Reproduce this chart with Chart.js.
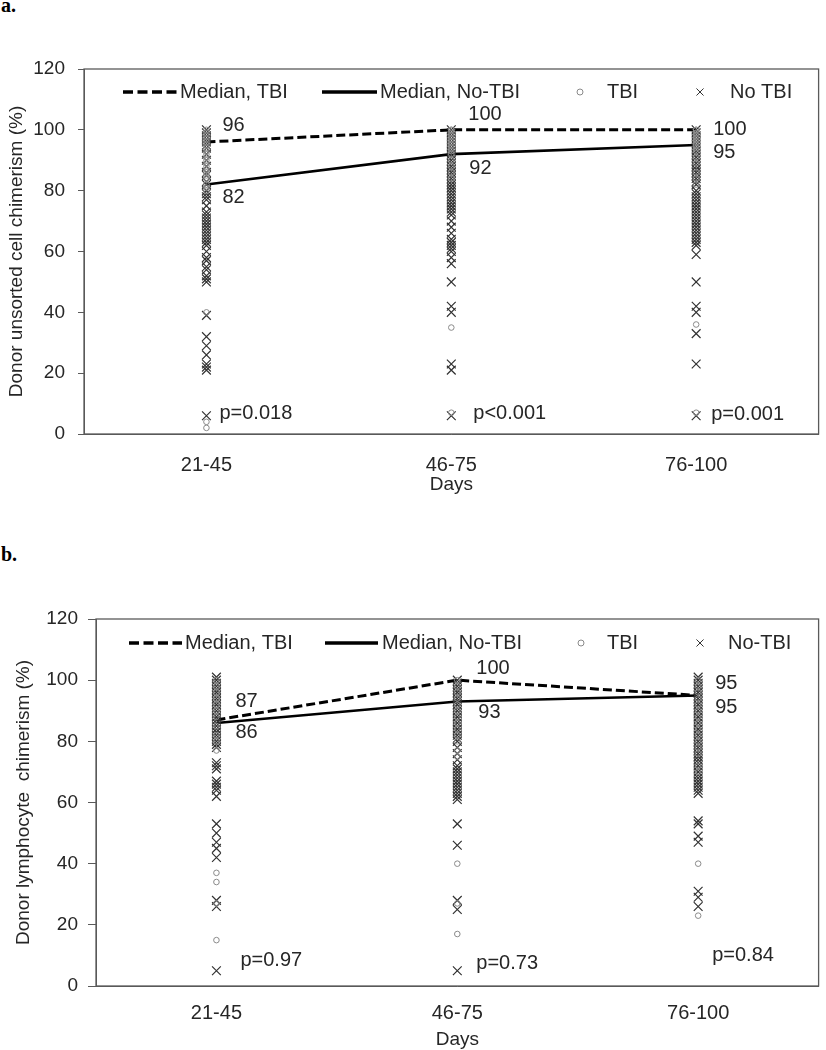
<!DOCTYPE html>
<html>
<head>
<meta charset="utf-8">
<script src="https://cdn.jsdelivr.net/npm/chart.js@4.4.1/dist/chart.umd.min.js"></script>
<style>
  html, body { margin: 0; padding: 0; background: #fff; overflow: hidden; }
  body { width: 826px; height: 1050px; position: relative; }
  .tag { position: absolute; left: 1px; font: bold 20px "Liberation Serif", "Times New Roman", serif; color: #000; line-height: 20px; }
  .panel { position: absolute; left: 0; width: 826px; }
</style>
</head>
<body>
<div class="tag" style="top:-5px">a.</div>
<div class="panel" style="top:0;height:500px"><canvas id="chartA" width="826" height="500"></canvas></div>
<div class="tag" style="top:544px">b.</div>
<div class="panel" style="top:530px;height:530px"><canvas id="chartB" width="826" height="530"></canvas></div>
<script>
const days = ['21-45', '46-75', '76-100'];
const yTicks = [0, 20, 40, 60, 80, 100, 120];

// a. donor unsorted cell chimerism (%)
const medianTbiA = [96, 100, 100];
const medianNoTbiA = [82, 92, 95];
const tbiA = [
  [100, 99, 98, 97, 96, 95, 94, 93, 92, 91, 90, 89, 88, 87, 86, 85, 84, 82, 81, 80, 40, 4, 2],
  [100, 100, 99, 98, 97, 96, 95, 94, 93, 92, 90, 88, 86, 84, 35, 7],
  [100, 100, 99, 98, 97, 96, 95, 94, 93, 91, 89, 86, 84, 82, 36, 7]
];
const noTbiA = [
  [100, 99, 98, 97, 96, 95, 94, 92, 90, 88, 86, 85, 83, 82, 80, 79, 78, 77, 75, 73, 72, 71, 70, 69, 68, 67, 66, 65, 64, 63, 62, 60, 58, 57, 55, 54, 52, 51, 50, 39, 32, 29, 26, 23, 22, 21, 6],
  [100, 99, 98, 97, 96, 95, 94, 93, 92, 91, 90, 89, 88, 87, 86, 85, 84, 83, 82, 81, 80, 79, 78, 77, 76, 75, 74, 73, 72, 70, 68, 66, 64, 63, 62, 61, 60, 58, 56, 50, 42, 40, 23, 21, 6],
  [100, 99, 98, 97, 96, 95, 94, 93, 92, 91, 90, 89, 88, 87, 86, 85, 84, 83, 82, 80, 79, 78, 77, 76, 75, 74, 73, 72, 71, 70, 69, 68, 67, 66, 65, 64, 63, 62, 59, 50, 42, 40, 33, 23, 6]
];
const pValuesA = ['p=0.018', 'p<0.001', 'p=0.001'];

// b. donor lymphocyte chimerism (%)
const medianTbiB = [87, 100, 95];
const medianNoTbiB = [86, 93, 95];
const tbiB = [
  [100, 98, 96, 94, 92, 90, 88, 85, 82, 80, 77, 37, 34, 27, 15],
  [100, 98, 96, 94, 92, 90, 88, 86, 84, 82, 80, 77, 75, 40, 27, 17],
  [100, 98, 96, 94, 92, 90, 88, 86, 84, 82, 80, 78, 76, 72, 70, 40, 23]
];
const noTbiB = [
  [101, 100, 99, 98, 97, 96, 95, 94, 93, 92, 91, 90, 89, 88, 87, 86, 85, 84, 83, 82, 81, 80, 79, 78, 73, 72, 71, 67, 66, 65, 64, 62, 53, 50, 47, 45, 42, 28, 26, 5],
  [100, 99, 98, 97, 96, 95, 94, 93, 92, 91, 90, 89, 88, 87, 86, 85, 84, 83, 82, 81, 80, 78, 76, 74, 72, 71, 70, 69, 68, 67, 66, 65, 64, 63, 62, 61, 53, 46, 28, 25, 5],
  [101, 100, 99, 98, 97, 96, 95, 94, 93, 92, 91, 90, 89, 88, 87, 86, 85, 84, 83, 82, 81, 80, 79, 78, 77, 76, 75, 74, 73, 72, 71, 70, 69, 68, 67, 66, 65, 64, 63, 54, 53, 49, 47, 31, 29, 26]
];
const pValuesB = ['p=0.97', 'p=0.73', 'p=0.84'];

const FONT = '"Liberation Sans", Arial, sans-serif';
const TEXT = '#262626';
const LINE = '#5a5a5a';

function points(groups) {
  return groups.flatMap((vals, i) => vals.map(v => ({ x: days[i], y: v })));
}

// box round the plot area
const framePlugin = {
  id: 'frame',
  beforeDatasetsDraw(chart) {
    const a = chart.chartArea, ctx = chart.ctx;
    ctx.save();
    ctx.strokeStyle = LINE;
    ctx.lineWidth = 1.3;
    ctx.strokeRect(a.left, a.top, a.right - a.left, a.bottom - a.top);
    ctx.restore();
  }
};

// legend drawn inside the plot, one row
const inlineLegend = {
  id: 'inlineLegend',
  afterDraw(chart, args, opts) {
    const ctx = chart.ctx, y = opts.y;
    ctx.save();
    ctx.font = '20px ' + FONT;
    ctx.textBaseline = 'middle';
    ctx.textAlign = 'left';
    chart.data.datasets.forEach((ds, i) => {
      const it = opts.items[i];
      if (ds.showLine === false) {
        ctx.strokeStyle = ds.pointBorderColor;
        ctx.fillStyle = 'rgba(0,0,0,0)';
        ctx.lineWidth = 1;
        Chart.helpers.drawPoint(ctx, { pointStyle: ds.pointStyle, radius: ds.pointStyle === 'circle' ? 3 : 5, borderWidth: 1, rotation: 0 }, it.mark, y);
      } else {
        ctx.strokeStyle = '#000';
        ctx.lineWidth = 3.4;
        ctx.setLineDash(ds.borderDash ? [10, 4.5] : []);
        ctx.beginPath();
        ctx.moveTo(it.x0, y);
        ctx.lineTo(it.x1, y);
        ctx.stroke();
        ctx.setLineDash([]);
      }
      ctx.fillStyle = TEXT;
      ctx.fillText(ds.label, it.text, y);
    });
    ctx.restore();
  }
};

// median values and p-values
const valueLabels = {
  id: 'valueLabels',
  afterDatasetsDraw(chart, args, opts) {
    const ctx = chart.ctx, xs = chart.scales.x, ys = chart.scales.y;
    ctx.save();
    ctx.font = '20px ' + FONT;
    ctx.fillStyle = TEXT;
    ctx.textBaseline = 'middle';
    ctx.textAlign = 'left';
    [0, 1].forEach(di => {
      chart.data.datasets[di].data.forEach((v, i) => {
        const off = opts.medianOffsets[di][i];
        ctx.fillText(String(v), xs.getPixelForValue(i) + off[0], ys.getPixelForValue(v) + off[1]);
      });
    });
    opts.pValues.forEach((t, i) => {
      const p = opts.pPos[i];
      ctx.fillText(t, xs.getPixelForValue(i) + p[0], ys.getPixelForValue(p[1]));
    });
    ctx.restore();
  }
};

function makeChart(id, c) {
  return new Chart(document.getElementById(id), {
    type: 'line',
    data: {
      labels: days,
      datasets: [
        { label: 'Median, TBI', data: c.medTbi, borderColor: '#000', borderWidth: 3, borderDash: [9, 4], pointRadius: 0, tension: 0, order: 3 },
        { label: 'Median, No-TBI', data: c.medNoTbi, borderColor: '#000', borderWidth: 2.6, pointRadius: 0, tension: 0, order: 2 },
        { label: 'TBI', data: points(c.tbi), showLine: false, pointStyle: 'circle', pointRadius: 2.8, pointBorderWidth: 1, pointBorderColor: '#8a8a8a', pointBackgroundColor: 'rgba(255,255,255,0)', order: 0 },
        { label: c.noTbiLabel, data: points(c.noTbi), showLine: false, pointStyle: 'crossRot', pointRadius: 6.2, pointBorderWidth: 1.2, pointBorderColor: '#333333', order: 1 }
      ]
    },
    options: {
      responsive: false,
      devicePixelRatio: 1,
      animation: false,
      events: [],
      layout: { padding: { top: c.padTop, right: c.padRight, left: 0, bottom: 0 } },
      scales: {
        x: {
          type: 'category',
          offset: true,
          afterFit: s => { s.height = c.xHeight; },
          grid: { display: false, drawTicks: false },
          border: { display: true, color: LINE },
          ticks: { color: TEXT, font: { family: FONT, size: 20 }, padding: c.xTickPad, maxRotation: 0 },
          title: { display: true, text: 'Days', color: TEXT, font: { family: FONT, size: 19 }, padding: { top: 0, bottom: c.xTitlePad } }
        },
        y: {
          min: 0,
          max: 120,
          afterFit: s => { s.width = c.yWidth; },
          afterBuildTicks: s => { s.ticks = yTicks.map(v => ({ value: v })); },
          grid: { display: true, drawOnChartArea: false, drawTicks: true, tickLength: c.tickLen, color: LINE },
          border: { display: true, color: LINE },
          ticks: { color: TEXT, font: { family: FONT, size: 19 }, padding: c.yTickPad },
          title: { display: true, text: c.yTitle, color: TEXT, font: { family: FONT, size: 19 }, padding: { top: c.yTitlePad, bottom: 0 } }
        }
      },
      plugins: {
        legend: { display: false },
        tooltip: { enabled: false },
        inlineLegend: { y: c.legendY, items: c.legendItems },
        valueLabels: { medianOffsets: c.medianOffsets, pValues: c.pValues, pPos: c.pPos }
      }
    },
    plugins: [framePlugin, inlineLegend, valueLabels]
  });
}

makeChart('chartA', {
  medTbi: medianTbiA, medNoTbi: medianNoTbiA, tbi: tbiA, noTbi: noTbiA, noTbiLabel: 'No TBI',
  pValues: pValuesA,
  yTitle: 'Donor unsorted cell chimerism (%)',
  padTop: 69, padRight: 4, xHeight: 66, xTickPad: 19, xTitlePad: 4,
  yWidth: 84, tickLen: 6, yTickPad: 13, yTitlePad: 5,
  legendY: 92,
  legendItems: [{ x0: 123, x1: 178, text: 180 }, { x0: 322, x1: 377, text: 380 }, { mark: 580, text: 607 }, { mark: 700, text: 730 }],
  medianOffsets: [[[16, -17], [17, -15], [17, 0]], [[16, 13], [18, 14], [17, 7]]],
  pPos: [[13, 6.9], [22, 6.9], [15, 6.3]]
});

makeChart('chartB', {
  medTbi: medianTbiB, medNoTbi: medianNoTbiB, tbi: tbiB, noTbi: noTbiB, noTbiLabel: 'No-TBI',
  pValues: pValuesB,
  yTitle: 'Donor lymphocyte  chimerism (%)',
  padTop: 89, padRight: 6, xHeight: 74, xTickPad: 15, xTitlePad: 8.6,
  yWidth: 96, tickLen: 8, yTickPad: 10, yTitlePad: 12,
  legendY: 113,
  legendItems: [{ x0: 129, x1: 182, text: 185 }, { x0: 325, x1: 378, text: 382 }, { mark: 581, text: 607 }, { mark: 700, text: 728 }],
  medianOffsets: [[[19, -18], [19, -12], [17, -12]], [[19, 10], [21, 11], [17, 12]]],
  pPos: [[24, 8.2], [19, 7.5], [14, 10]]
});
</script>
</body>
</html>
